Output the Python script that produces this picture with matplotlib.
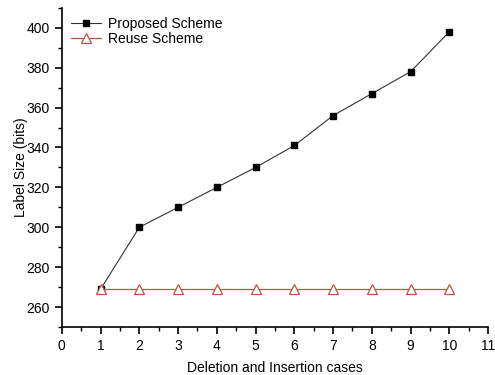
import matplotlib
matplotlib.use("Agg")
import matplotlib.pyplot as plt
from matplotlib.ticker import MultipleLocator

plt.rcParams["font.family"] = ["Liberation Sans", "DejaVu Sans"]

cases = [1, 2, 3, 4, 5, 6, 7, 8, 9, 10]
proposed = [269, 300, 310, 320, 330, 341, 356, 367, 378, 398]
reuse = [269, 269, 269, 269, 269, 269, 269, 269, 269, 269]

fig = plt.figure(figsize=(4.95, 3.75), dpi=100)
ax = fig.add_axes([0.125, 0.128, 0.861, 0.851])

ax.plot(cases, proposed, color="#333333", lw=0.8, marker="s", ms=4.5,
        mfc="black", mec="black", label="Proposed Scheme")
ax.plot(cases, reuse, color="#c0504d", lw=0.9, marker="^", ms=6.5,
        mfc="white", mec="#c0504d", mew=0.9, label="Reuse Scheme")

ax.set_xlim(0, 11)
ax.set_ylim(250, 410)
ax.xaxis.set_major_locator(MultipleLocator(1))
ax.xaxis.set_minor_locator(MultipleLocator(0.5))
ax.yaxis.set_major_locator(MultipleLocator(20))
ax.yaxis.set_minor_locator(MultipleLocator(10))
ax.set_yticks(range(260, 401, 20))

for side in ["top", "right"]:
    ax.spines[side].set_visible(False)
for side in ["left", "bottom"]:
    ax.spines[side].set_linewidth(1.2)

ax.tick_params(which="major", direction="out", length=5, width=1.2, labelsize=10)
ax.tick_params(which="minor", direction="out", length=3, width=1.0)

ax.set_xlabel("Deletion and Insertion cases", fontsize=10, labelpad=6)
ax.set_ylabel("Label Size (bits)", fontsize=10, labelpad=-1)

ax.legend(loc="upper left", frameon=False, fontsize=10, handlelength=2.2,
          borderaxespad=0.25, labelspacing=0.1, handletextpad=0.5,
          bbox_to_anchor=(0.0, 1.0))

fig.savefig("out.png", dpi=100)
